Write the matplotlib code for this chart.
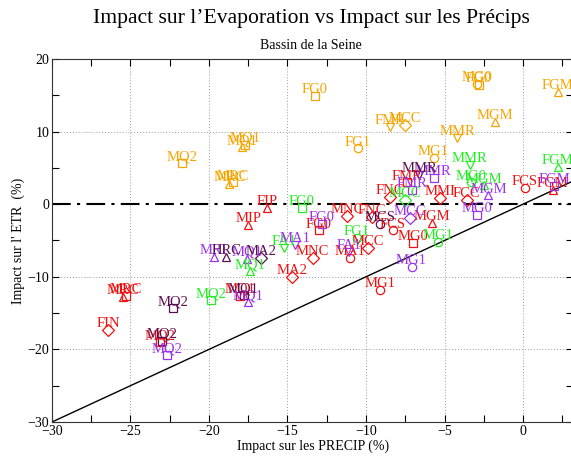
import matplotlib
matplotlib.use("Agg")
import matplotlib.pyplot as plt
from matplotlib.ticker import MultipleLocator

plt.rcParams['font.family'] = ['Liberation Serif', 'DejaVu Serif']

# ---- data ----
orange_labels = ["FG0", "MQ2", "MQ1", "MQ1", "MRC", "MRC", "FG0", "MG0", "FGM",
                 "FMR", "MCC", "MGM", "MMR", "FG1", "MG1"]
orange_x = [-13.25, -21.7, -17.9, -17.7, -18.7, -18.5, -2.8, -2.9, 2.2,
            -8.5, -7.5, -1.8, -4.2, -10.5, -5.7]
orange_y = [14.9, 5.7, 7.9, 8.2, 2.8, 3.0, 16.4, 16.6, 15.5,
            10.6, 10.9, 11.3, 9.1, 7.7, 6.4]
orange_m = ["s", "s", "^", "s", "^", "s", "s", "o", "^",
            "v", "D", "^", "v", "o", "o"]

red_labels = ["FIP", "MIP", "MRC", "MRC", "FIN", "MQ2", "MQ1", "MA2", "MNC", "FG0",
              "MNC", "FNC", "FCS", "MCC", "MG0", "MGM", "MG1", "MA1", "FMR", "FNC",
              "MMI", "FCC", "FCS", "FGM"]
red_x = [-16.3, -17.5, -25.5, -25.3, -26.4, -23.1, -18.0, -14.7, -13.4, -13.0,
         -11.2, -9.6, -8.3, -9.9, -7.0, -5.8, -9.1, -11.0, -7.4, -8.5,
         -5.3, -3.6, 0.1, 1.9]
red_y = [-0.5, -2.9, -12.8, -12.6, -17.3, -19.0, -12.6, -10.0, -7.4, -3.6,
         -1.6, -1.8, -3.6, -6.0, -5.3, -2.6, -11.8, -7.4, 3.0, 1.0,
         0.9, 0.6, 2.2, 2.0]
red_m = ["^", "^", "^", "s", "D", "s", "s", "D", "D", "s",
         "D", "D", "o", "D", "s", "^", "o", "o", "s", "D",
         "D", "D", "o", "^"]

green_labels = ["FG0", "FA1", "MQ1", "MQ2", "MMR", "MG0", "MGM", "FG1", "MG1", "FGM", "MCC"]
green_x = [-14.1, -15.2, -17.4, -19.9, -3.4, -3.3, -2.5, -10.6, -5.4, 2.2, -7.5]
green_y = [-0.5, -6.0, -9.2, -13.2, 5.4, 3.0, 2.6, -4.6, -5.2, 5.1, 0.6]
green_m = ["s", "v", "^", "s", "v", "o", "^", "o", "o", "^", "D"]

purple_labels = ["MRI", "MQ2", "MQ1", "MA1", "FG0", "MCC", "MG0", "MG1", "MGM",
                 "FMR", "MMR", "FGM", "FA1", "MQ1"]
purple_x = [-19.7, -22.7, -17.5, -14.5, -12.8, -7.2, -2.9, -7.1, -2.2,
            -7.1, -5.7, 2.0, -11.1, -17.6]
purple_y = [-7.3, -20.8, -13.5, -5.6, -2.7, -1.9, -1.5, -8.6, 1.2,
            2.0, 3.6, 2.5, -6.6, -7.5]
purple_m = ["^", "s", "^", "v", "s", "D", "s", "o", "^",
            "s", "s", "s", "v", "^"]

dark_labels = ["MMR", "HRC", "MA2", "MQ2", "MQ1", "MCS", "MQ2"]
dark_x = [-6.6, -18.9, -16.7, -22.3, -17.8, -9.1, -23.0]
dark_y = [4.0, -7.3, -7.4, -14.3, -12.5, -2.7, -18.8]
dark_m = ["v", "^", "D", "s", "s", "o", "s"]

groups = [
    (orange_labels, orange_x, orange_y, orange_m, "#f5a400"),
    (red_labels, red_x, red_y, red_m, "#ee1111"),
    (green_labels, green_x, green_y, green_m, "#22ee22"),
    (purple_labels, purple_x, purple_y, purple_m, "#9933ee"),
    (dark_labels, dark_x, dark_y, dark_m, "#5a1050"),
]

# ---- figure ----
fig = plt.figure(figsize=(5.71, 4.59), dpi=100)
ax = fig.add_axes([0.091, 0.0806, 0.913, 0.791])
ax.set_xlim(-30, 3.2)
ax.set_ylim(-30, 20)

ax.xaxis.set_major_locator(MultipleLocator(5))
ax.xaxis.set_minor_locator(MultipleLocator(2.5))
ax.yaxis.set_major_locator(MultipleLocator(10))
ax.yaxis.set_minor_locator(MultipleLocator(5))
ax.tick_params(which="both", direction="in", top=True, right=True,
               length=5, width=0.8, labelsize=10, pad=2)
for s in ax.spines.values():
    s.set_linewidth(0.8)
    s.set_color("#333333")

for gx in range(-25, 1, 5):
    ax.axvline(gx, color="#999999", lw=0.7, ls=(0, (1, 2)), zorder=0)
for gy in (10, -10, -20):
    ax.axhline(gy, color="#999999", lw=0.7, ls=(0, (1, 2)), zorder=0)

ax.axhline(0, color="black", lw=1.5, ls=(0, (9, 3, 1.5, 3)), zorder=1)
ax.plot([-30, 3.2], [-30, 3.2], color="black", lw=1.0, zorder=1)

for labels, xs, ys, ms, col in groups:
    for lab, x, y, m in zip(labels, xs, ys, ms):
        ax.plot(x, y, marker=m, ms=6, mfc="none", mec=col, mew=0.9,
                ls="none", zorder=3)
        ax.annotate(lab, (x, y), xytext=(0, 4.5), textcoords="offset points",
                    ha="center", va="center", color=col, fontsize=10.5, zorder=4,
                    annotation_clip=False)

ax.set_xlabel("Impact sur les PRECIP (%)", fontsize=10, labelpad=1)
ax.set_ylabel("Impact sur l' ETR  (%)", fontsize=10, labelpad=2)

fig.text(0.545, 0.960, "Impact sur l\u2019Evaporation vs Impact sur les Précips",
         ha="center", va="center", fontsize=15.6)
fig.text(0.545, 0.900, "Bassin de la Seine", ha="center", va="center", fontsize=10)

fig.savefig("out.png", dpi=100)
